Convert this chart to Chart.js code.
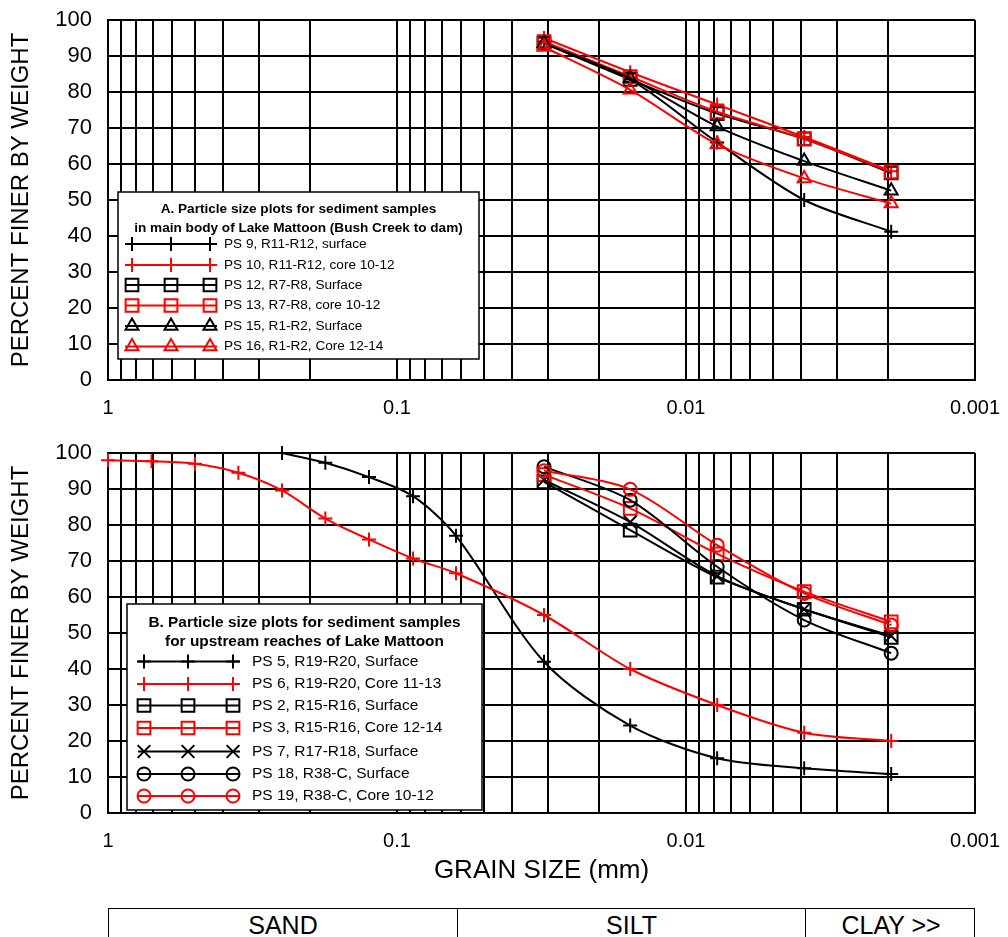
<!DOCTYPE html>
<html>
<head>
<meta charset="utf-8">
<title>Particle size plots, Lake Mattoon</title>
<script src="https://cdn.jsdelivr.net/npm/chart.js@4.4.1/dist/chart.umd.min.js"></script>
<style>
  body { margin: 0; background: #fff; }
  #page { position: relative; width: 1008px; height: 937px; overflow: hidden; font-family: "Liberation Sans", Arial, sans-serif; }
  #topWrap { position: absolute; left: 0; top: 0; }
  #bottomWrap { position: absolute; left: 0; top: 430px; }
  #classBar { position: absolute; top: 908px; height: 40px; border: 1.5px solid #000; box-sizing: border-box; }
  #classBar div { position: absolute; top: 0; height: 100%; box-sizing: border-box; text-align: center; font-size: 25px; line-height: 33px; color: #000; }
</style>
</head>
<body>
<div id="page">
  <div id="topWrap"><canvas id="chartA" width="1008" height="430"></canvas></div>
  <div id="bottomWrap"><canvas id="chartB" width="1008" height="478"></canvas></div>
  <div id="classBar"></div>
</div>
<script>
// grain sizes (mm) at which the samples were sieved / pipetted
const grainSizes = [1, 0.707, 0.5, 0.354, 0.25, 0.177, 0.125, 0.088, 0.0625, 0.031, 0.0156, 0.0078, 0.0039, 0.00195];
const fineSizes = grainSizes.slice(9);
const ps5Sizes = grainSizes.slice(4);

// A. main body of Lake Mattoon (percent finer at fineSizes)
const ps9 = [94, 83.5, 66, 50, 41.2];
const ps10 = [95, 85.5, 76.5, 67.5, 58];
const ps12 = [93.5, 83.5, 74, 67, 57.5];
const ps13 = [94, 84.3, 74.5, 67, 57.8];
const ps15 = [93.5, 83.8, 70.4, 60.8, 52.6];
const ps16 = [92.5, 80.6, 65.5, 56, 49];

// B. upstream reaches
const ps5 = [100, 97.3, 93.3, 88, 77, 42, 24.3, 15.2, 12.4, 10.8];
const ps6 = [98, 97.7, 97, 94.5, 89.6, 81.8, 76, 70.7, 66.6, 55, 40, 30, 22.3, 20];
const ps2 = [92, 78.6, 65.5, 56.6, 48.8];
const ps3 = [94, 84.6, 72, 61.5, 53.1];
const ps7 = [92.5, 80.8, 65.8, 56.6, 49.2];
const ps18 = [96.2, 86.9, 68.4, 53.6, 44.4];
const ps19 = [95.1, 89.9, 74.4, 61, 52.2];

// axis labels
const majorSizes = [1, 0.1, 0.01, 0.001];
const majorLabels = ['1', '0.1', '0.01', '0.001'];
const classNames = ['SAND', 'SILT', 'CLAY  >>'];
const classLimits = [1, 0.0625, 0.0039, 0.001];

const RED = '#ff0000';
const BLACK = '#000000';
const FONT = '"Liberation Sans", Arial, sans-serif';
const markerRadius = { cross: 7, rect: 9, triangle: 7.5, crossRot: 9, circle: 6.5 };

// log grid: every 1..9 step inside each decade
const gridSizes = [];
[1, 0.1, 0.01].forEach(top => { for (let m = 10; m > 1; m--) gridSizes.push(top * m / 10); });
gridSizes.push(0.001);

function series(label, sizes, values, color, shape, n, i) {
  return {
    label: label,
    data: sizes.map((x, k) => ({ x: x, y: values[k] })),
    borderColor: color,
    borderWidth: 2,
    pointStyle: shape,
    pointRadius: markerRadius[shape],
    pointBorderColor: color,
    pointBackgroundColor: 'rgba(0,0,0,0)',
    pointBorderWidth: 2,
    tension: 0.3,
    clip: false,
    order: n - i
  };
}

function marker(ctx, shape, x, y) {
  const opts = { pointStyle: shape, radius: markerRadius[shape], rotation: 0, borderWidth: 2 };
  if (Chart.helpers && Chart.helpers.drawPoint) {
    Chart.helpers.drawPoint(ctx, opts, x, y);
    return;
  }
  const r = markerRadius[shape];
  ctx.beginPath();
  if (shape === 'circle') ctx.arc(x, y, r, 0, Math.PI * 2);
  else if (shape === 'rect') { const s = r * Math.SQRT1_2; ctx.rect(x - s, y - s, 2 * s, 2 * s); }
  else if (shape === 'triangle') { ctx.moveTo(x, y - r); ctx.lineTo(x + r * 0.866, y + r / 2); ctx.lineTo(x - r * 0.866, y + r / 2); ctx.closePath(); }
  else if (shape === 'cross') { ctx.moveTo(x, y - r); ctx.lineTo(x, y + r); ctx.moveTo(x - r, y); ctx.lineTo(x + r, y); }
  else { const s = r * Math.SQRT1_2; ctx.moveTo(x - s, y - s); ctx.lineTo(x + s, y + s); ctx.moveTo(x + s, y - s); ctx.lineTo(x - s, y + s); }
  ctx.stroke();
}

// boxed legend drawn inside the plot area
const boxLegend = {
  id: 'boxLegend',
  afterDatasetsDraw(chart, args, o) {
    const ctx = chart.ctx;
    const b = o.box;
    ctx.save();
    ctx.fillStyle = '#fff';
    ctx.fillRect(b.x, b.y, b.w, b.h);
    ctx.strokeStyle = '#000';
    ctx.lineWidth = 1.5;
    ctx.strokeRect(b.x, b.y, b.w, b.h);
    ctx.fillStyle = '#000';
    ctx.textAlign = 'center';
    ctx.textBaseline = 'middle';
    ctx.font = 'bold ' + o.titleSize + 'px ' + FONT;
    o.title.forEach((t, i) => ctx.fillText(t, b.x + b.w / 2, o.titleY[i]));
    ctx.textAlign = 'left';
    ctx.font = o.textSize + 'px ' + FONT;
    chart.data.datasets.forEach((ds, i) => {
      const y = o.rowY[i];
      ctx.strokeStyle = ds.borderColor;
      ctx.lineWidth = 2;
      ctx.beginPath();
      ctx.moveTo(o.lineX[0], y);
      ctx.lineTo(o.lineX[1], y);
      ctx.stroke();
      ctx.fillStyle = 'rgba(0,0,0,0)';
      o.markX.forEach(x => marker(ctx, ds.pointStyle, x, y));
      ctx.fillStyle = '#000';
      ctx.fillText(ds.label, o.textX, y);
    });
    ctx.restore();
  }
};

function sizeLabel(value) {
  for (let i = 0; i < majorSizes.length; i++) {
    if (Math.abs(Math.log10(value) - Math.log10(majorSizes[i])) < 1e-6) return majorLabels[i];
  }
  return '';
}

// tick marks are kept but made invisible so they only push the labels away from the axis
function options(xHeight, padTop, showTitle, legend) {
  return {
    responsive: false,
    animation: false,
    events: [],
    layout: { padding: { top: padTop, right: 33, left: 0, bottom: 0 } },
    plugins: { legend: { display: false }, tooltip: { enabled: false }, boxLegend: legend },
    scales: {
      x: {
        type: 'logarithmic',
        reverse: true,
        min: 0.001,
        max: 1,
        afterBuildTicks: s => { s.ticks = gridSizes.map(v => ({ value: v })); },
        afterFit: s => { s.height = xHeight; },
        grid: { color: '#000', lineWidth: 2, drawTicks: true, tickLength: 10, tickColor: 'rgba(0,0,0,0)' },
        border: { color: '#000', width: 2 },
        ticks: { autoSkip: false, maxRotation: 0, padding: 6, color: '#000', font: { family: FONT, size: 20 }, callback: v => sizeLabel(v) },
        title: { display: showTitle, text: 'GRAIN SIZE (mm)', color: '#000', font: { family: FONT, size: 26 }, padding: { top: 0, bottom: 22 } }
      },
      y: {
        min: 0,
        max: 100,
        afterFit: s => { s.width = 108; },
        grid: { color: '#000', lineWidth: 2, drawTicks: true, tickLength: 13, tickColor: 'rgba(0,0,0,0)' },
        border: { color: '#000', width: 2 },
        ticks: { stepSize: 10, padding: 3, color: '#000', font: { family: FONT, size: 22 } },
        title: { display: true, text: 'PERCENT FINER BY WEIGHT', color: '#000', font: { family: FONT, size: 24 }, padding: { top: 7, bottom: 0 } }
      }
    }
  };
}

const setA = [
  ['PS 9, R11-R12, surface', fineSizes, ps9, BLACK, 'cross'],
  ['PS 10, R11-R12, core 10-12', fineSizes, ps10, RED, 'cross'],
  ['PS 12, R7-R8, Surface', fineSizes, ps12, BLACK, 'rect'],
  ['PS 13, R7-R8, core 10-12', fineSizes, ps13, RED, 'rect'],
  ['PS 15, R1-R2, Surface', fineSizes, ps15, BLACK, 'triangle'],
  ['PS 16, R1-R2, Core 12-14', fineSizes, ps16, RED, 'triangle']
];
const setB = [
  ['PS 5, R19-R20, Surface', ps5Sizes, ps5, BLACK, 'cross'],
  ['PS 6, R19-R20, Core 11-13', grainSizes, ps6, RED, 'cross'],
  ['PS 2, R15-R16, Surface', fineSizes, ps2, BLACK, 'rect'],
  ['PS 3, R15-R16, Core 12-14', fineSizes, ps3, RED, 'rect'],
  ['PS 7, R17-R18, Surface', fineSizes, ps7, BLACK, 'crossRot'],
  ['PS 18, R38-C, Surface', fineSizes, ps18, BLACK, 'circle'],
  ['PS 19, R38-C, Core 10-12', fineSizes, ps19, RED, 'circle']
];

new Chart(document.getElementById('chartA'), {
  type: 'line',
  data: { datasets: setA.map((s, i) => series(s[0], s[1], s[2], s[3], s[4], setA.length, i)) },
  options: options(50, 20, false, {
    box: { x: 118, y: 192, w: 361, h: 167 },
    title: ['A. Particle size plots for sediment samples', 'in main body of Lake Mattoon (Bush Creek to dam)'],
    titleY: [209, 228], titleSize: 13.6,
    rowY: [244, 265, 285, 305.5, 326, 346.5],
    lineX: [125, 217], markX: [132, 171, 210], textX: 224, textSize: 13.6
  }),
  plugins: [boxLegend]
});

const chartB = new Chart(document.getElementById('chartB'), {
  type: 'line',
  data: { datasets: setB.map((s, i) => series(s[0], s[1], s[2], s[3], s[4], setB.length, i)) },
  options: options(95, 23, true, {
    box: { x: 127, y: 174, w: 355, h: 206 },
    title: ['B. Particle size plots for sediment samples', 'for upstream reaches of Lake Mattoon'],
    titleY: [192.5, 211.5], titleSize: 15.4,
    rowY: [231.5, 254, 275.5, 298, 321.5, 344, 366],
    lineX: [138, 240], markX: [144, 188, 233], textX: 252, textSize: 15.5
  }),
  plugins: [boxLegend]
});

// sand / silt / clay bar under the lower plot, aligned with its x scale
const xs = chartB.scales.x;
const bar = document.getElementById('classBar');
const left = xs.getPixelForValue(classLimits[0]);
const right = xs.getPixelForValue(classLimits[classLimits.length - 1]);
bar.style.left = left + 'px';
bar.style.width = (right - left) + 'px';
classNames.forEach((name, i) => {
  const a = xs.getPixelForValue(classLimits[i]) - left;
  const b = xs.getPixelForValue(classLimits[i + 1]) - left;
  const cell = document.createElement('div');
  cell.textContent = name;
  cell.style.left = a + 'px';
  cell.style.width = (b - a) + 'px';
  if (i > 0) cell.style.borderLeft = '1.5px solid #000';
  bar.appendChild(cell);
});
</script>
</body>
</html>
